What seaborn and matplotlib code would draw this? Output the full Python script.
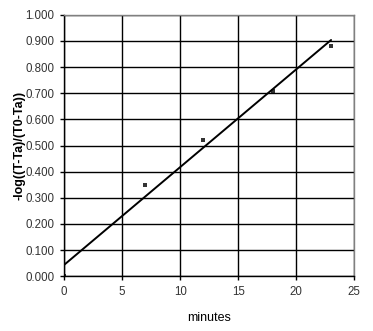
import matplotlib
matplotlib.use("Agg")
import matplotlib.pyplot as plt
import seaborn as sns
import pandas as pd
from matplotlib.ticker import FormatStrFormatter

minutes = [0, 7, 12, 18, 23]
values = [0.0, 0.35, 0.52, 0.71, 0.88]
x_ticks = [0, 5, 10, 15, 20, 25]
y_ticks = [0.0, 0.1, 0.2, 0.3, 0.4, 0.5, 0.6, 0.7, 0.8, 0.9, 1.0]

sns.set_style("white")
plt.rcParams['font.family'] = ['Liberation Sans', 'DejaVu Sans']

df = pd.DataFrame({"minutes": minutes, "value": values})

fig = plt.figure(figsize=(3.73, 3.31), dpi=100)
ax = fig.add_axes([64/373, (331-276.3)/331, (354.3-64)/373, (276.3-14.7)/331])

sns.regplot(data=df, x="minutes", y="value", ax=ax, ci=None, truncate=True, marker="s",
            scatter_kws=dict(s=12, color="black", linewidths=0, zorder=3),
            line_kws=dict(color="black", lw=1.4))

ax.set_xlim(0, 25)
ax.set_ylim(0, 1.0)
ax.set_xticks(x_ticks)
ax.set_yticks(y_ticks)
ax.yaxis.set_major_formatter(FormatStrFormatter('%.3f'))
ax.grid(True, color="black", lw=1.0)
ax.set_axisbelow(True)
for s in ax.spines.values():
    s.set_color("#808080")
    s.set_linewidth(1.0)
ax.spines['left'].set_color("black")
ax.spines['bottom'].set_color("black")
ax.tick_params(axis='both', labelsize=8.3, labelcolor="#333333", color="black",
               length=3, width=1, direction='out', left=True, bottom=True, pad=4)
ax.set_xlabel("minutes", fontsize=9, color="black", labelpad=10)
ax.set_ylabel("-log((T-Ta)/(T0-Ta))", fontsize=9, fontweight="bold", color="black", labelpad=0)

fig.savefig("out.png", dpi=100, facecolor="white")
